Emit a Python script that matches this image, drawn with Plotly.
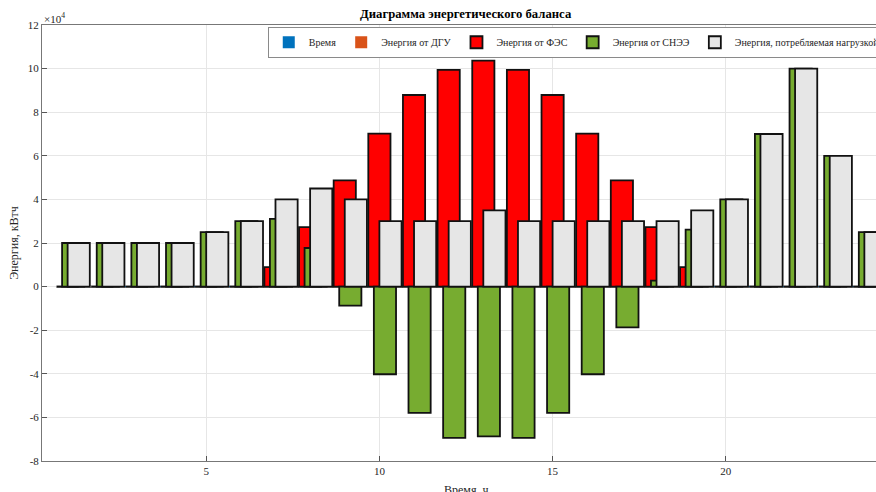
import plotly.graph_objects as go

hours = list(range(1, 25))
time_vals = list(range(1, 25))
dgu = [0] * 24
pv = [0, 0, 0, 0, 0, 0, 8900, 27300, 48700, 70200, 87900, 99400,
      103700, 99400, 87900, 70200, 48700, 27300, 8900, 0, 0, 0, 0, 0]
bess = [20000, 20000, 20000, 20000, 25000, 30000, 31100, 17700, -8700, -40200, -57900, -69400,
        -68700, -69400, -57900, -40200, -18700, 2700, 26100, 40000, 70000, 100000, 60000, 25000]
load = [20000, 20000, 20000, 20000, 25000, 30000, 40000, 45000, 40000, 30000, 30000, 30000,
        35000, 30000, 30000, 30000, 30000, 30000, 35000, 40000, 70000, 100000, 60000, 25000]

names = ["Время", "Энергия от ДГУ", "Энергия от ФЭС", "Энергия от СНЭЭ",
         "Энергия, потребляемая нагрузкой"]
series = [time_vals, dgu, pv, bess, load]
colors = ["#0072BD", "#D95319", "#FF0000", "#77AC30", "#E6E6E6"]
edges = [0, 0, 1.8, 1.8, 1.8]
offsets = [-0.64, -0.48, -0.32, -0.16, 0.0]
bw = 0.64

yticks = [-8, -6, -4, -2, 0, 2, 4, 6, 8, 10, 12]

FONT = "Liberation Serif"
fig = go.Figure()
for n, s, c, e, o in zip(names, series, colors, edges, offsets):
    fig.add_trace(go.Bar(
        x=hours, y=s, name=n, width=bw, offset=o,
        marker=dict(color=c, line=dict(color="#111111", width=e)),
    ))

W, H = 900, 492
L, R, T, B = 42, 10, 25, 31
fig.update_layout(
    width=W, height=H,
    margin=dict(l=L, r=R, t=T, b=B),
    barmode="overlay",
    plot_bgcolor="white", paper_bgcolor="white",
    font=dict(family=FONT, size=11, color="#262626"),
    showlegend=True,
    legend=dict(orientation="h", x=0.995, xanchor="right", y=0.996, yanchor="top",
                bgcolor="white", bordercolor="#8a8a8a", borderwidth=1,
                font=dict(family=FONT, size=10, color="#262626"),
                traceorder="normal", itemwidth=30, tracegroupgap=0),
    xaxis=dict(range=[0.26, 24.74], tickvals=[5, 10, 15, 20], ticks="inside", ticklen=5,
               tickcolor="#555", showline=True, linecolor="#777", linewidth=1, mirror=True,
               showgrid=True, gridcolor="#e6e6e6", zeroline=False,
               tickfont=dict(family=FONT, size=11, color="#262626")),
    yaxis=dict(range=[-80000, 120000], tickvals=[v * 10000 for v in yticks],
               ticktext=[str(v) for v in yticks], ticks="inside", ticklen=5,
               tickcolor="#555", showline=True, linecolor="#777", linewidth=1, mirror=True,
               showgrid=True, gridcolor="#e6e6e6", zeroline=False,
               title=dict(text="Энергия, кВтч", font=dict(family=FONT, size=12, color="#262626"), standoff=6),
               tickfont=dict(family=FONT, size=11, color="#262626")),
    annotations=[
        dict(text="<b>Диаграмма энергетического баланса</b>", xref="paper", yref="paper",
             x=0.5, y=1.0, yshift=2, xanchor="center", yanchor="bottom", showarrow=False,
             font=dict(family=FONT, size=12.7, color="#000")),
        dict(text="Время, ч", xref="paper", yref="paper", x=0.5, y=0, yshift=-20,
             xanchor="center", yanchor="top", showarrow=False,
             font=dict(family=FONT, size=12, color="#262626")),
        dict(text="×10<sup>4</sup>", xref="paper", yref="paper", x=0, y=1.0, yshift=-2,
             xanchor="left", yanchor="bottom", showarrow=False,
             font=dict(family=FONT, size=11, color="#262626")),
    ],
)
# black baseline drawn by the zero-height bars' edges (from first to last bar group)
fig.add_shape(type="line", xref="x", yref="y",
              x0=hours[0] + offsets[2], x1=hours[-1] + offsets[4] + bw, y0=0, y1=0,
              line=dict(color="#111111", width=1.8), layer="below")

fig.write_html("out.html", config={"displayModeBar": False},
               post_script="document.body.style.margin='0';document.body.style.overflow='hidden';")
